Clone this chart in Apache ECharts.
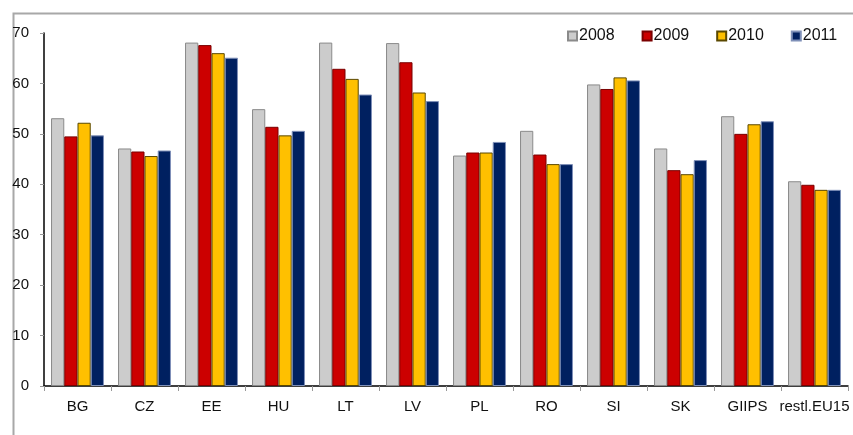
<!DOCTYPE html>
<html>
<head>
<meta charset="utf-8">
<script src="https://cdn.jsdelivr.net/npm/echarts@6/dist/echarts.min.js"></script>
<style>
  html, body { margin: 0; padding: 0; background: #fff; }
  #chart { width: 853px; height: 435px; }
</style>
</head>
<body>
<div id="chart"></div>
<script>
// categories and values
var categories = ['BG', 'CZ', 'EE', 'HU', 'LT', 'LV', 'PL', 'RO', 'SI', 'SK', 'GIIPS', 'restl.EU15'];
var years = ['2008', '2009', '2010', '2011'];
var v2008 = [53.1, 47.1, 68.1, 54.9, 68.1, 68.0, 45.7, 50.6, 59.8, 47.1, 53.5, 40.6];
var v2009 = [49.5, 46.5, 67.6, 51.4, 62.9, 64.2, 46.3, 45.9, 58.9, 42.8, 50.0, 39.9];
var v2010 = [52.2, 45.6, 66.0, 49.7, 60.9, 58.2, 46.3, 44.0, 61.2, 42.0, 51.9, 38.9];
var v2011 = [49.7, 46.7, 65.1, 50.6, 57.8, 56.5, 48.4, 44.0, 60.6, 44.8, 52.5, 38.9];
var yTicks = [0, 10, 20, 30, 40, 50, 60, 70];

var fill = ['#cccccc', '#cc0000', '#ffc000', '#002060'];
var edge = ['#8a8a8a', '#7a0000', '#5a4800', '#7f90b8'];
var allValues = [v2008, v2009, v2010, v2011];

var font = 'Liberation Sans, Arial, sans-serif';
var chart = echarts.init(document.getElementById('chart'));

var series = years.map(function (y, i) {
  return {
    name: y,
    type: 'bar',
    data: allValues[i],
    barGap: '0%',
    barCategoryGap: '21%',
    itemStyle: { color: fill[i], borderColor: edge[i], borderWidth: 1 }
  };
});

chart.setOption({
  animation: false,
  textStyle: { fontFamily: font },
  graphic: [{
    type: 'rect',
    left: 11, top: 11,
    shape: { width: 860, height: 440 },
    style: { fill: 'none', stroke: '#a8a8a8', lineWidth: 2 },
    silent: true
  }],
  legend: {
    data: years,
    left: 562,
    top: 23,
    itemWidth: 9,
    itemHeight: 9,
    itemGap: 27,
    icon: 'rect',
    textStyle: { fontSize: 16, color: '#111', fontFamily: font, padding: [0, 0, 0, -3] }
  },
  grid: { left: 44, right: 5, top: 33, bottom: 49, containLabel: false },
  xAxis: {
    type: 'category',
    data: categories,
    axisLine: { lineStyle: { color: '#000', width: 1.5 } },
    axisTick: { show: true, length: 5, lineStyle: { color: '#999' } },
    axisLabel: { color: '#111', fontSize: 15, margin: 13, interval: 0 }
  },
  yAxis: {
    type: 'value',
    min: yTicks[0],
    max: yTicks[yTicks.length - 1],
    interval: 10,
    axisLine: { show: true, lineStyle: { color: '#000', width: 1.5 } },
    axisTick: { show: true, length: 4, lineStyle: { color: '#999' } },
    splitLine: { show: false },
    axisLabel: { color: '#111', fontSize: 15, margin: 15 }
  },
  series: series
});
</script>
</body>
</html>
